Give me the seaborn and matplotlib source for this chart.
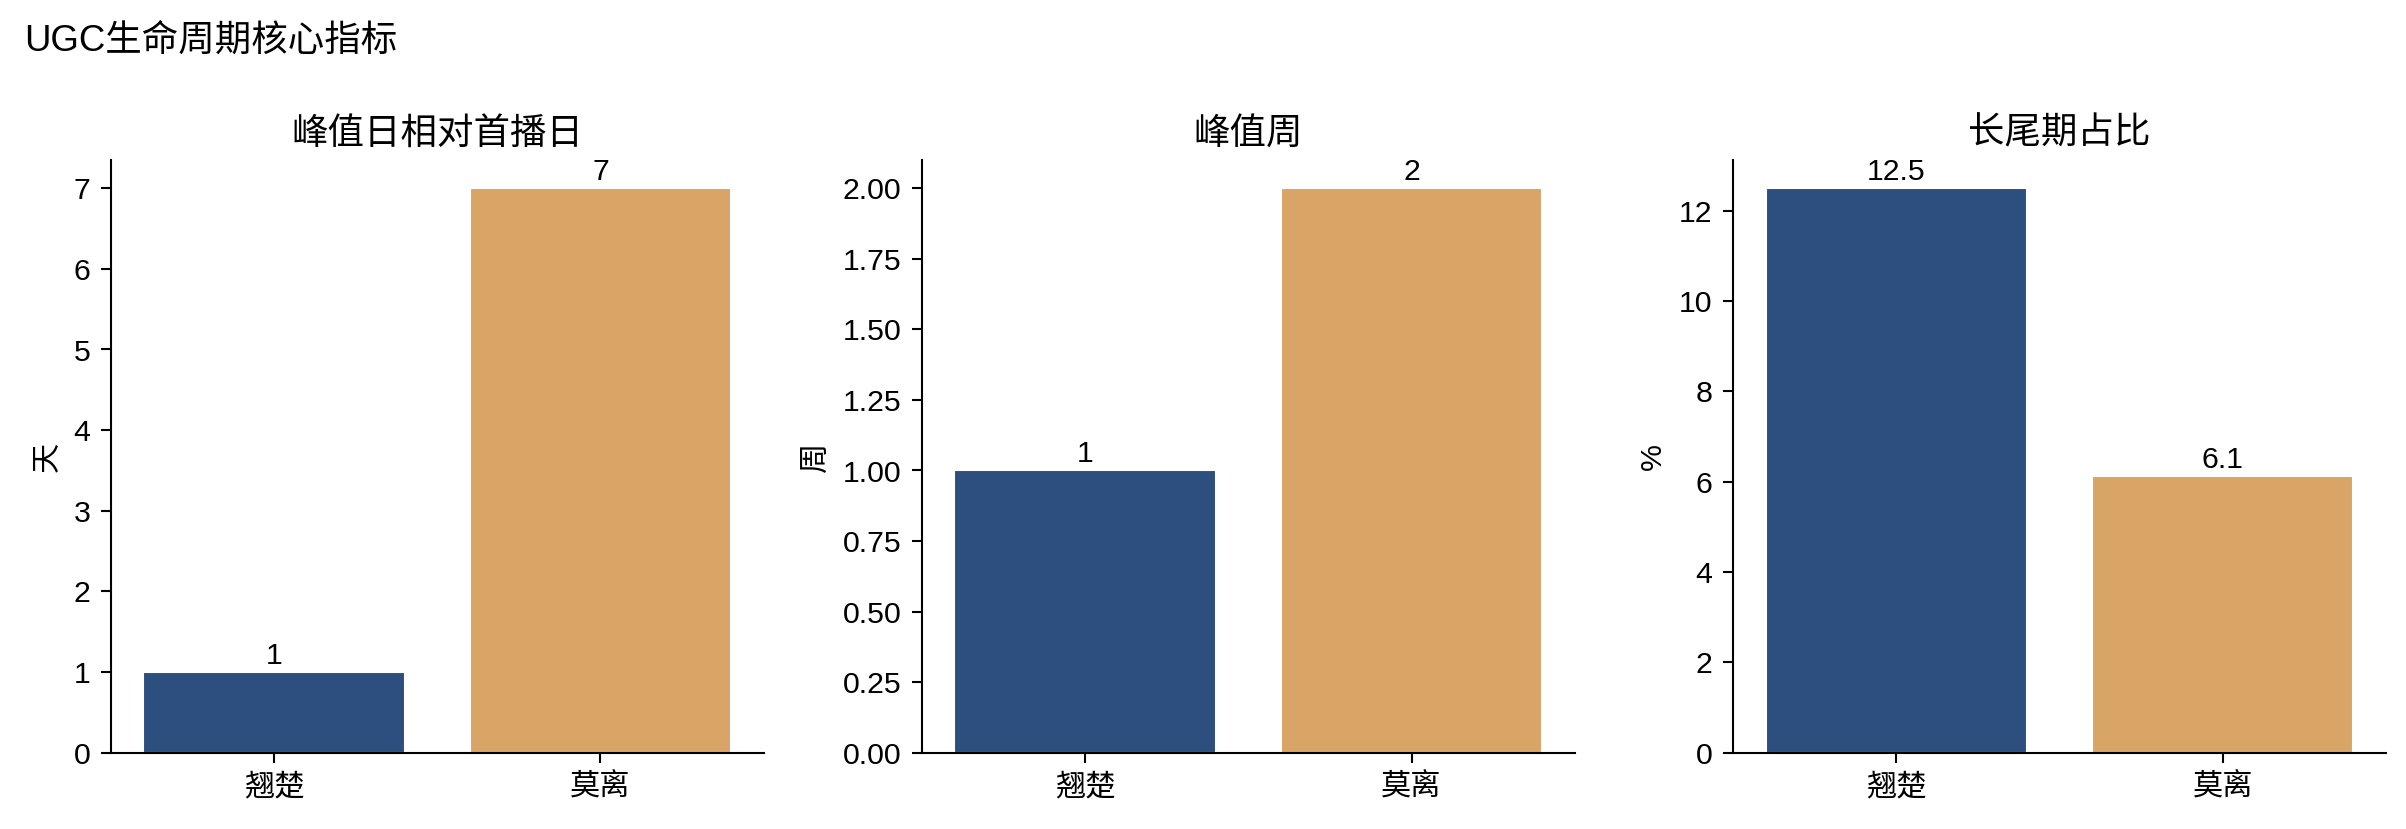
import matplotlib
matplotlib.use("Agg")
import matplotlib.pyplot as plt
import seaborn as sns
import pandas as pd

categories = ["翘楚", "莫离"]
peak_day = [1, 7]
peak_week = [1, 2]
longtail_pct = [12.5, 6.12]
value_labels_day = ["1", "7"]
value_labels_week = ["1", "2"]
value_labels_pct = ["12.5", "6.1"]
titles = ["峰值日相对首播日", "峰值周", "长尾期占比"]
ylabels = ["天", "周", "%"]
suptitle = "UGC生命周期核心指标"
colors = ["#2c4f80", "#d9a566"]

sns.set_theme(style="ticks", rc={
    "text.color": "black", "axes.labelcolor": "black",
    "xtick.color": "black", "ytick.color": "black",
    "axes.edgecolor": "black", "axes.linewidth": 1.0,
    "xtick.major.size": 4.8, "ytick.major.size": 4.8,
    "xtick.major.width": 1.0, "ytick.major.width": 1.0,
    "xtick.major.pad": 5.0, "ytick.major.pad": 5.0,
})
plt.rcParams["font.family"] = ["Liberation Sans", "Noto Sans CJK SC", "DejaVu Sans"]
plt.rcParams["axes.unicode_minus"] = False

fig, axes = plt.subplots(1, 3, figsize=(16.04, 5.527), dpi=150)
series = [peak_day, peak_week, longtail_pct]
labels = [value_labels_day, value_labels_week, value_labels_pct]
for ax, vals, labs, t, yl in zip(axes, series, labels, titles, ylabels):
    df = pd.DataFrame({"name": categories, "value": vals})
    sns.barplot(data=df, x="name", y="value", hue="name", palette=colors,
                legend=False, ax=ax, saturation=1)
    for cont, lab in zip(ax.containers, labs):
        ax.bar_label(cont, labels=[lab], fontsize=14.5, padding=1)
    ax.set_title(t, fontsize=17.5, pad=8)
    ax.set_xlabel("")
    ax.set_ylabel(yl, fontsize=14.5, labelpad=6)
    ax.tick_params(labelsize=14.5)
    sns.despine(ax=ax)

fig.suptitle(suptitle, x=0.01, y=0.972, ha="left", va="top", fontsize=17.5)
fig.subplots_adjust(left=0.046, right=0.9917, top=0.807, bottom=0.092, wspace=0.242)
fig.savefig("out.png", dpi=150)
